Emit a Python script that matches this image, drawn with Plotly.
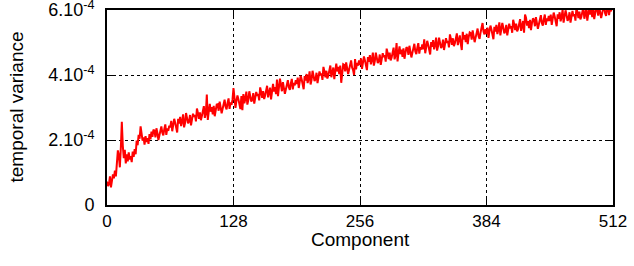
import plotly.graph_objects as go

# temporal variance per component 0..512 (units of 1e-5), 16 components per row
variance_e5 = [
    7.2, 5.8, 6.4, 8.8, 5.4, 7.6, 9.4, 8.2, 10.6, 8.8, 12.4, 16.8, 15.2, 11.6, 17.6, 25.6,
    18.2, 14.4, 17.0, 12.8, 15.6, 13.4, 16.2, 14.0, 15.0, 13.2, 16.4, 14.8, 17.2, 15.6, 19.8, 18.4,
    21.6, 20.4, 24.2, 22.0, 19.8, 20.8, 18.6, 21.2, 19.4, 20.6, 18.8, 21.8, 20.2, 22.6, 21.0, 23.2,
    22.8, 20.8, 23.6, 22.2, 20.0, 21.4, 23.2, 24.2, 22.2, 21.4, 23.4, 24.8, 21.6, 23.6, 22.8, 24.4,
    23.9, 25.9, 22.7, 24.9, 26.5, 25.3, 23.5, 22.3, 26.5, 25.1, 27.1, 24.3, 25.7, 27.9, 23.9, 25.3,
    28.3, 26.9, 25.1, 25.7, 27.7, 24.5, 27.1, 28.1, 27.1, 27.7, 25.7, 29.7, 28.3, 26.5, 28.5, 26.1,
    27.4, 29.0, 30.4, 26.8, 28.2, 34.0, 26.2, 28.8, 31.1, 28.7, 30.1, 27.9, 30.5, 27.3, 29.5, 30.9,
    31.0, 29.0, 31.8, 30.4, 28.2, 29.6, 31.4, 32.4, 30.2, 29.4, 31.4, 32.8, 29.6, 31.6, 30.8, 32.4,
    36.0, 33.1, 29.9, 32.1, 33.7, 32.5, 30.7, 29.5, 33.5, 29.2, 34.1, 31.3, 32.7, 34.9, 30.9, 32.3,
    35.0, 33.6, 31.8, 32.4, 34.4, 31.2, 33.8, 34.8, 33.6, 34.2, 32.2, 36.2, 34.8, 33.0, 35.0, 32.6,
    33.7, 35.3, 36.7, 33.1, 34.5, 36.1, 32.5, 35.1, 37.3, 34.9, 36.3, 34.1, 38.6, 33.5, 37.7, 38.9,
    37.0, 35.0, 37.8, 36.4, 34.2, 35.6, 37.4, 38.4, 36.2, 35.4, 37.4, 38.8, 35.6, 37.6, 36.8, 38.4,
    37.2, 39.2, 36.0, 38.2, 39.8, 38.6, 36.8, 35.6, 39.7, 38.3, 40.3, 37.5, 38.9, 41.1, 37.1, 38.5,
    41.3, 39.9, 38.1, 38.7, 40.7, 37.5, 40.1, 41.1, 39.9, 40.5, 38.5, 42.5, 41.1, 39.3, 41.3, 38.9,
    39.9, 41.5, 42.9, 39.3, 40.7, 42.3, 38.7, 41.3, 43.5, 41.1, 42.5, 40.3, 42.9, 37.6, 41.9, 43.3,
    43.1, 41.1, 43.9, 42.5, 40.3, 41.7, 43.5, 44.5, 42.3, 41.5, 40.0, 44.9, 41.7, 43.7, 42.9, 44.5,
    43.1, 45.1, 41.9, 44.1, 45.7, 44.5, 42.7, 41.5, 45.5, 44.1, 46.1, 43.3, 44.7, 46.9, 42.9, 44.3,
    46.9, 45.5, 43.7, 44.3, 46.3, 43.1, 45.7, 46.7, 45.5, 46.1, 44.1, 48.1, 46.7, 44.9, 46.9, 44.5,
    45.4, 47.0, 48.4, 44.8, 46.2, 49.8, 44.2, 46.8, 48.8, 46.4, 47.8, 45.6, 48.2, 45.0, 47.2, 48.6,
    48.2, 46.2, 49.0, 47.6, 45.4, 46.8, 48.6, 49.6, 47.2, 46.4, 48.4, 49.8, 46.6, 48.6, 47.8, 49.4,
    47.9, 51.0, 46.7, 48.9, 50.5, 49.3, 47.5, 46.3, 50.1, 48.7, 50.7, 47.9, 49.3, 51.5, 47.5, 48.9,
    51.5, 50.1, 48.3, 48.9, 50.9, 47.7, 50.3, 51.3, 49.9, 50.5, 48.5, 52.5, 51.1, 49.3, 51.3, 48.9,
    49.8, 51.4, 52.8, 49.2, 50.6, 52.2, 49.6, 47.7, 53.3, 50.9, 52.3, 50.1, 52.7, 49.5, 51.7, 53.1,
    52.9, 50.9, 53.7, 52.3, 50.1, 51.5, 53.3, 54.3, 51.9, 51.1, 53.1, 54.5, 56.0, 53.3, 52.5, 54.1,
    52.6, 54.6, 51.4, 53.6, 55.2, 54.0, 52.2, 51.0, 54.8, 53.4, 55.4, 52.6, 54.0, 56.2, 52.2, 53.6,
    56.0, 54.6, 52.8, 53.4, 55.4, 52.2, 54.8, 55.8, 54.4, 55.0, 53.0, 57.0, 55.6, 53.8, 55.8, 53.4,
    54.2, 55.8, 57.2, 53.6, 55.0, 56.6, 53.0, 58.6, 57.6, 55.2, 56.6, 54.4, 57.0, 53.8, 56.0, 57.4,
    57.0, 55.0, 57.8, 56.4, 54.2, 55.6, 57.4, 58.4, 56.0, 55.2, 57.2, 58.6, 55.4, 57.4, 56.6, 58.2,
    56.6, 58.6, 55.4, 57.6, 59.2, 58.0, 56.2, 55.0, 58.7, 57.3, 59.3, 56.5, 57.9, 60.1, 56.1, 57.5,
    59.9, 58.5, 56.7, 57.3, 59.3, 56.1, 58.7, 59.7, 58.1, 58.7, 56.7, 60.7, 59.3, 57.5, 59.5, 57.1,
    57.9, 59.5, 60.9, 57.3, 58.7, 60.3, 56.7, 59.3, 61.0, 58.6, 60.0, 57.8, 60.4, 57.2, 59.4, 60.8,
    60.3, 58.3, 61.1, 59.7, 57.5, 58.9, 60.7, 61.7, 59.0, 58.2, 60.2, 61.6, 58.4, 60.4, 59.6, 61.2,
    60.2,
]
components = list(range(len(variance_e5)))
variance = [v * 1e-5 for v in variance_e5]

x_ticks = [0, 128, 256, 384, 512]
y_ticks = [0, 2e-4, 4e-4, 6e-4]
y_ticktext = ["0", "2.10<sup>-4</sup>", "4.10<sup>-4</sup>", "6.10<sup>-4</sup>"]
x_title = "Component"
y_title = "temporal variance"

fig = go.Figure()
fig.add_trace(go.Scatter(x=components, y=variance, mode="lines",
                         line=dict(color="#ff0000", width=2), showlegend=False))

family = "Liberation Sans, Arial, sans-serif"
x_tick_font = dict(family=family, size=17, color="black")
y_tick_font = dict(family=family, size=18, color="black")
title_font = dict(family=family, size=19, color="black")
axis_common = dict(showline=True, linecolor="black", linewidth=2, mirror="ticks",
                   ticks="inside", ticklen=6, tickcolor="black", tickwidth=1,
                   showgrid=True, gridcolor="black", griddash="dot", gridwidth=1,
                   zeroline=False, automargin=False, ticklabeloverflow="allow")

fig.update_layout(
    width=634, height=266,
    margin=dict(l=107, r=21, t=10, b=61),
    paper_bgcolor="white", plot_bgcolor="white",
    font=x_tick_font,
    xaxis=dict(range=[0, 512], tickvals=x_ticks, ticktext=[str(t) for t in x_ticks],
               tickfont=x_tick_font, **axis_common),
    yaxis=dict(range=[0, 6e-4], tickvals=y_ticks, ticktext=y_ticktext,
               tickfont=y_tick_font, ticklabelstandoff=7, **axis_common),
    annotations=[
        dict(text=x_title, xref="paper", yref="paper", x=0.5, y=0,
             xanchor="center", yanchor="middle", yshift=-34, showarrow=False,
             font=title_font),
        dict(text=y_title, xref="paper", yref="paper", x=0, y=0.5,
             xanchor="center", yanchor="middle", xshift=-91, textangle=-90,
             showarrow=False, font=title_font),
    ],
)

fig.write_html("out.html", config={"displayModeBar": False},
               post_script="document.body.style.margin='0px';")
